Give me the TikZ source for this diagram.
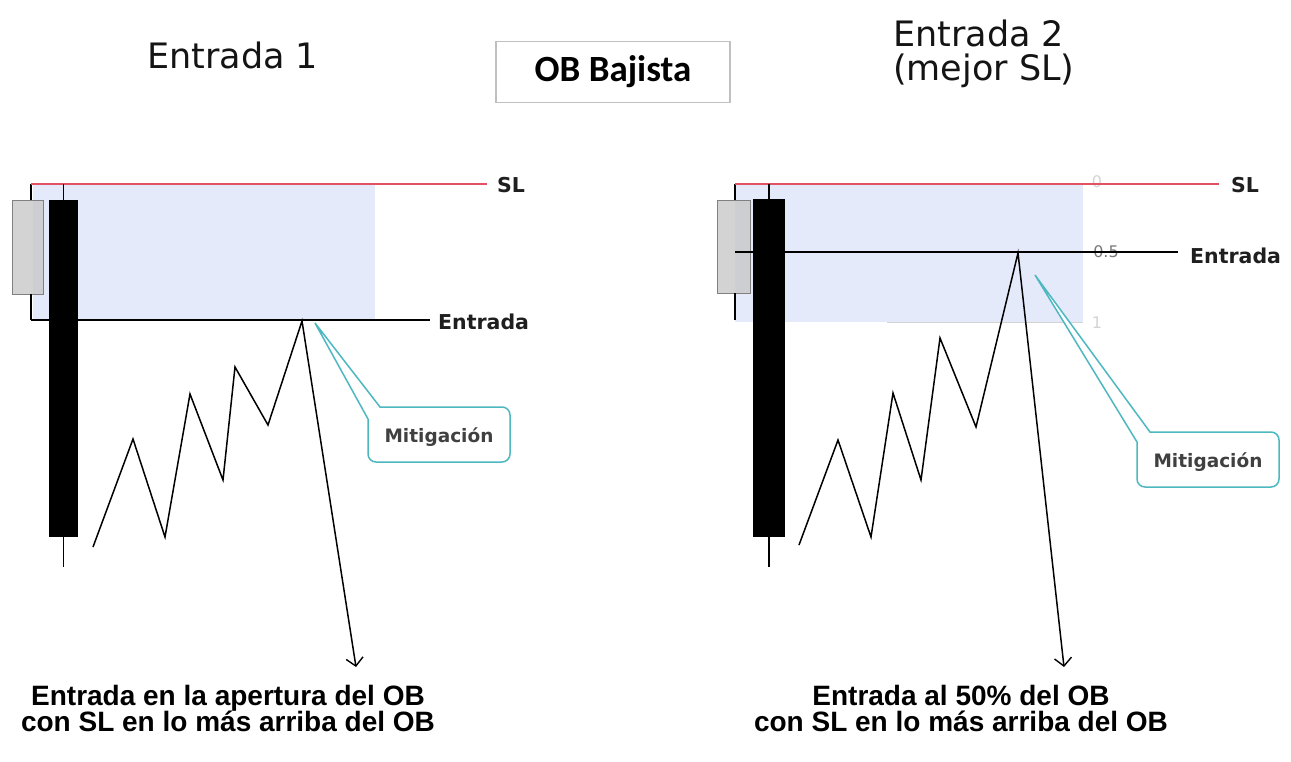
\documentclass[tikz,border=0pt]{standalone}
\usepackage{fontspec}
\setmainfont{DejaVu Sans}
\newfontfamily\titlefont{DejaVu Sans}
\newfontfamily\calfont{Carlito}
\newfontfamily\arialfont{Liberation Sans}
\usetikzlibrary{arrows.meta}
\definecolor{zoneblue}{RGB}{229,234,251}
\definecolor{slred}{RGB}{228,80,100}
\definecolor{callteal}{RGB}{78,184,192}
\definecolor{candlegrey}{RGB}{200,200,200}
\definecolor{boxgrey}{RGB}{192,192,192}
\definecolor{fibgrey}{RGB}{120,120,120}
\definecolor{fiblight}{RGB}{212,212,212}
\begin{document}
\begin{tikzpicture}[x=1pt,y=-1pt,
  price/.style={line width=1.5pt, black, line join=miter},
  pricearrow/.style={price, -{Straight Barb[length=8pt,width=17pt,line width=1.4pt]}},
  wick/.style={line width=1.2pt, black},
  greycandle/.style={draw=gray, line width=0.8pt, fill=candlegrey, fill opacity=0.8},
  blackcandle/.style={fill=black},
  slline/.style={slred, line width=1.4pt},
  entline/.style={black, line width=1.2pt},
  lbl/.style={font=\fontsize{20.5}{24}\selectfont\bfseries, text=black!88, inner sep=0pt},
  title/.style={font=\titlefont\fontsize{35}{40}\selectfont, text=black!92, inner sep=0pt},
  bottomtxt/.style={font=\arialfont\bfseries\fontsize{28}{26}\selectfont, align=center, inner sep=0pt},
  callout/.style={draw=callteal, line width=1.5pt, fill=white, line join=miter},
  calltext/.style={font=\fontsize{18.5}{20}\selectfont\bfseries, text=black!75, inner sep=0pt},
  fiblbl/.style={font=\fontsize{16}{18}\selectfont, inner sep=0pt}
]
\useasboundingbox (0,0) rectangle (1291,761);
\fill[white] (0,0) rectangle (1291,761);

% ---------- titles ----------
\node[title, anchor=base west] (t1) at (147,68) {Entrada 1};
\node[draw=boxgrey, line width=1.5pt, minimum width=234pt, minimum height=61pt,
      font=\calfont\bfseries\fontsize{37}{40}\selectfont] (ob) at (613,72) {OB Bajista};
\node[title, anchor=base west] (t2a) at (893,46) {Entrada 2};
\node[title, anchor=base west] (t2b) at (893,80) {(mejor SL)};

% ================= LEFT PANEL =================
\fill[zoneblue] (33,184) rectangle (375,320);
\draw[greycandle] (12,200) rectangle (43,294);
\coordinate (gLtop) at (31,184);
\coordinate (gLbot) at (31,320);
\draw[wick] (gLtop) -- (31,200);
\draw[wick] (31,294) -- (gLbot);

\node[lbl, anchor=west] (slL) at (497,185) {SL};
\node[lbl, anchor=west] (entL) at (438,322) {Entrada};
\draw[slline] (gLtop) -- ([xshift=-10pt]slL.west |- gLtop);
\draw[entline] (gLbot) -- ([xshift=-8pt]entL.west |- gLbot);

\fill[blackcandle] (49,200) rectangle (78,537);
\draw[wick] (63.5,184) -- (63.5,200);
\draw[wick] (63.5,537) -- (63.5,567);

\coordinate (a1) at (93,547);
\coordinate (a2) at (133,439);
\coordinate (a3) at (165,537);
\coordinate (a4) at (190,394);
\coordinate (a5) at (223,480);
\coordinate (a6) at (235,367);
\coordinate (a7) at (268,425);
\coordinate (a8) at (302,321);
\coordinate (a9) at (356,667);
\draw[pricearrow] (a1) -- (a2) -- (a3) -- (a4) -- (a5) -- (a6) -- (a7) -- (a8) -- (a9);

\draw[callout] (380,407) -- (315,323) -- (368,419)
   [rounded corners=8pt] -- (368,462) -- (510,462) -- (510,407) [sharp corners] -- cycle;
\node[calltext] (mitL) at (439,437) {Mitigación};

% ================= RIGHT PANEL =================
\fill[zoneblue] (735,184) rectangle (1083,322);
\draw[greycandle] (717,200) rectangle (750,293);
\coordinate (gRtop) at (735,184);
\coordinate (gRmid) at (735,252);
\draw[wick] (gRtop) -- (735,200);
\draw[wick] (735,293) -- (735,320);

\node[lbl, anchor=west] (slR) at (1231,185) {SL};
\node[lbl, anchor=west] (entR) at (1190,256) {Entrada};
\node[fiblbl, text=fiblight] (f0) at (1097,182) {0};
\node[fiblbl, text=fibgrey] (f05) at (1106,252) {0.5};
\node[fiblbl, text=fiblight] (f1) at (1097,323) {1};
\coordinate (oneL) at (887,322);
\draw[fiblight, line width=1pt] (oneL) -- (1083,322);
\draw[slline] (gRtop) -- ([xshift=-12pt]slR.west |- gRtop);
\draw[entline] (gRmid) -- ([xshift=-12pt]entR.west |- gRmid);

\fill[blackcandle] (753,199) rectangle (785,537);
\draw[wick] (769,184) -- (769,199);
\draw[wick] (769,537) -- (769,567);

\coordinate (b1) at (799,545);
\coordinate (b2) at (838,440);
\coordinate (b3) at (871,537);
\coordinate (b4) at (893,393);
\coordinate (b5) at (921,480);
\coordinate (b6) at (940,338);
\coordinate (b7) at (976,427);
\coordinate (b8) at (1018,253);
\coordinate (b9) at (1064,667);
\draw[pricearrow] (b1) -- (b2) -- (b3) -- (b4) -- (b5) -- (b6) -- (b7) -- (b8) -- (b9);

\draw[callout] (1150,432) -- (1035,275) -- (1137,442)
   [rounded corners=8pt] -- (1137,487) -- (1279,487) -- (1279,432) [sharp corners] -- cycle;
\node[calltext] (mitR) at (1208,462) {Mitigación};

% ---------- bottom captions ----------
\node[bottomtxt, anchor=base] (capL1) at (228,705) {Entrada en la apertura del OB};
\node[bottomtxt, anchor=base] (capL2) at (228,731) {con SL en lo más arriba del OB};
\node[bottomtxt, anchor=base] (capR1) at (961,705) {Entrada al 50\% del OB};
\node[bottomtxt, anchor=base] (capR2) at (961,731) {con SL en lo más arriba del OB};
\end{tikzpicture}
\end{document}
